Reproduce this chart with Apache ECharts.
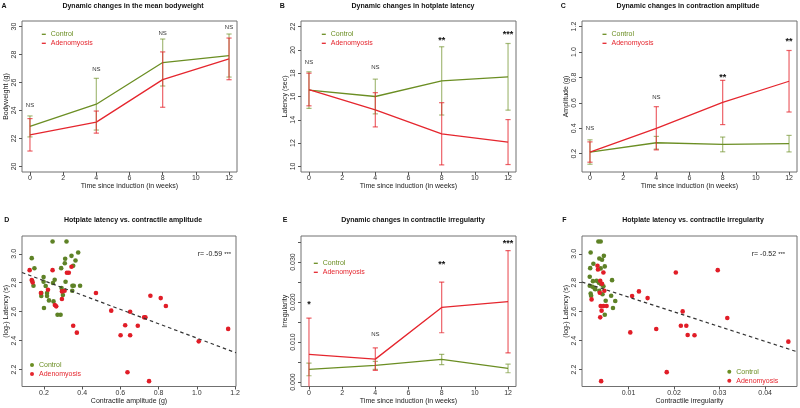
<!DOCTYPE html>
<html><head><meta charset="utf-8">
<script src="https://cdn.jsdelivr.net/npm/echarts@6/dist/echarts.min.js"></script>
<style>html,body{margin:0;padding:0;background:#fff}#c{width:800px;height:408px}</style>
</head><body><div id="c"></div>
<script>
// ---------- data ----------
const weeks = [0, 4, 8, 12];
const weekTicks = [0, 2, 4, 6, 8, 10, 12];

// A: bodyweight
const bwCtrlMean = [22.86, 24.45, 27.43, 27.93];
const bwCtrlSd = [0.75, 1.85, 1.68, 1.54];
const bwAdenoMean = [22.26, 23.17, 26.21, 27.69];
const bwAdenoSd = [1.16, 0.79, 1.98, 1.49];
const bwSig = ['NS', 'NS', 'NS', 'NS'];
const bwSigY = [24.36, 26.93, 29.55, 29.95];
const bwTicks = [20, 22, 24, 26, 28, 30];

// B: hotplate latency
const latCtrlMean = [16.55, 16.0, 17.34, 17.69];
const latCtrlSd = [1.57, 1.49, 2.93, 2.86];
const latAdenoMean = [16.6, 14.86, 12.8, 12.09];
const latAdenoSd = [1.4, 1.47, 2.67, 1.93];
const latSig = ['NS', 'NS', '**', '***'];
const latSigY = [18.94, 18.46, 20.94, 21.43];
const latTicks = [10, 12, 14, 16, 18, 20, 22];

// C: contraction amplitude
const ampCtrlMean = [0.213, 0.286, 0.273, 0.279];
const ampCtrlSd = [0.096, 0.05, 0.058, 0.065];
const ampAdenoMean = [0.213, 0.40, 0.603, 0.77];
const ampAdenoSd = [0.08, 0.17, 0.174, 0.242];
const ampSig = ['NS', 'NS', '**', '**'];
const ampSigY = [0.396, 0.642, 0.815, 1.095];
const ampTicks = [0.2, 0.4, 0.6, 0.8, 1.0, 1.2];

// E: contractile irregularity
const irrCtrlMean = [0.00316, 0.00416, 0.00566, 0.00341];
const irrCtrlSd = [0.00158, 0.001, 0.00129, 0.00108];
const irrAdenoMean = [0.00691, 0.00574, 0.01866, 0.02008];
const irrAdenoSd = [0.00909, 0.0028, 0.00633, 0.01279];
const irrSig = ['*', 'NS', '**', '***'];
const irrSigY = [0.01983, 0.01183, 0.02983, 0.03491];
const irrTicks = [0, 0.005, 0.01, 0.015, 0.02, 0.025, 0.03, 0.035];
const irrTickLabels = [0, 0.01, 0.02, 0.03];

// D: latency vs amplitude  [amplitude, log latency]
const dCtrl = [[0.136,2.97],[0.15,2.90],[0.245,3.085],[0.318,3.085],[0.311,2.966],[0.344,2.986],[0.379,3.009],
  [0.365,2.954],[0.309,2.935],[0.353,2.917],[0.29,2.901],[0.198,2.839],[0.256,2.821],[0.138,2.814],[0.145,2.779],
  [0.198,2.807],[0.209,2.777],[0.313,2.807],[0.247,2.798],[0.349,2.779],[0.356,2.779],[0.389,2.779],[0.292,2.763],
  [0.348,2.745],[0.186,2.729],[0.186,2.708],[0.216,2.729],[0.216,2.708],[0.299,2.715],[0.226,2.678],[0.25,2.671],
  [0.2,2.625],[0.271,2.579],[0.287,2.579]];
const dAdeno = [[0.125,2.887],[0.245,2.887],[0.344,2.91],[0.32,2.869],[0.33,2.869],[0.136,2.819],[0.141,2.802],
  [0.221,2.752],[0.184,2.729],[0.294,2.74],[0.308,2.745],[0.472,2.729],[0.294,2.688],[0.257,2.646],[0.264,2.637],
  [0.353,2.503],[0.372,2.455],[0.552,2.607],[0.651,2.60],[0.625,2.506],[0.691,2.503],[0.601,2.437],[0.651,2.437],
  [0.637,2.181],[0.757,2.71],[0.811,2.694],[0.838,2.639],[0.731,2.561],[0.724,2.561],[0.75,2.12],[1.01,2.395],[1.164,2.481]];
const fitD = [2.913, -0.4955];
const rLabelD = 'r= -0.59';
const dXTicks = [0.2, 0.4, 0.6, 0.8, 1.0, 1.2];
const logLatTicks = [2.2, 2.4, 2.6, 2.8, 3.0];

// F: latency vs irregularity [irregularity, log latency]
const fCtrl = [[0.0034,3.085],[0.0039,3.085],[0.0017,3.009],[0.0046,2.986],[0.0036,2.968],[0.0042,2.959],[0.0016,2.901],
  [0.0048,2.913],[0.0023,2.931],[0.0039,2.899],[0.0015,2.841],[0.0022,2.811],[0.0030,2.814],[0.0064,2.818],[0.0015,2.779],
  [0.0021,2.772],[0.0026,2.761],[0.0017,2.726],[0.0018,2.71],[0.0036,2.745],[0.0062,2.71],[0.0071,2.674],[0.0050,2.676],
  [0.0066,2.625],[0.0048,2.579],[0.0040,2.79],[0.0035,2.80],[0.0043,2.72],[0.0027,2.755],[0.0045,2.775]];
const fAdeno = [[0.0032,2.917],[0.0033,2.892],[0.0045,2.871],[0.0038,2.814],[0.0042,2.793],[0.0019,2.685],[0.0047,2.745],
  [0.0037,2.731],[0.0039,2.639],[0.0045,2.639],[0.0052,2.639],[0.0041,2.607],[0.0038,2.561],[0.0040,2.12],[0.0104,2.457],
  [0.0108,2.708],[0.0123,2.74],[0.0142,2.694],[0.0161,2.48],[0.0184,2.182],[0.0204,2.871],[0.0296,2.887],[0.0219,2.602],
  [0.0215,2.503],[0.0227,2.503],[0.0230,2.439],[0.0245,2.437],[0.0317,2.556],[0.0451,2.393]];
const fitF = [2.803, -10.21];
const rLabelF = 'r= -0.52';
const fXTicks = [0.01, 0.02, 0.03, 0.04];

// ---------- styling ----------
const FONT = 'Liberation Sans, Arial, Helvetica, sans-serif';
const GREEN = '#6b8e23';
const RED = '#e5262e';
const GREEN_A = 'rgba(107,142,35,0.6)';
const RED_A = 'rgba(229,38,46,0.72)';

const grids = [
  {left: 22, top: 21, width: 215, height: 151},
  {left: 301, top: 21, width: 215, height: 151},
  {left: 582, top: 21, width: 215, height: 151},
  {left: 22, top: 236, width: 214, height: 150.5},
  {left: 301, top: 236, width: 215, height: 150.5},
  {left: 582, top: 236, width: 215, height: 150.5}
].map(g => Object.assign(g, {show: true, borderColor: '#707070', borderWidth: 1, backgroundColor: 'transparent', containLabel: false}));

function axis(dim, gi, min, max, ticks, labels, fmt, name) {
  const isY = dim === 'y';
  return {
    type: 'value', gridIndex: gi, min: min, max: max,
    axisLine: {show: false, onZero: false},
    splitLine: {show: false},
    axisTick: {show: true, length: 3, lineStyle: {color: '#555', width: 1}, customValues: ticks},
    axisLabel: {customValues: labels, formatter: fmt, fontSize: 7, color: '#333', fontFamily: FONT,
      margin: isY ? 4.5 : 3, rotate: isY ? 90 : 0},
    name: name, nameLocation: 'middle', nameGap: isY ? 12 : 10,
    nameTextStyle: {fontSize: 7, color: '#222', fontFamily: FONT}
  };
}
const f0 = v => String(v), f1 = v => v.toFixed(1), f2 = v => v.toFixed(2), f3 = v => v.toFixed(3);

const xAxes = [
  axis('x', 0, -0.48, 12.48, weekTicks, weekTicks, f0, 'Time since induction (in weeks)'),
  axis('x', 1, -0.48, 12.48, weekTicks, weekTicks, f0, 'Time since induction (in weeks)'),
  axis('x', 2, -0.48, 12.48, weekTicks, weekTicks, f0, 'Time since induction (in weeks)'),
  axis('x', 3, 0.085, 1.205, dXTicks, dXTicks, f1, 'Contractile amplitude (g)'),
  axis('x', 4, -0.48, 12.48, weekTicks, weekTicks, f0, 'Time since induction (in weeks)'),
  axis('x', 5, -0.0002, 0.047, fXTicks, fXTicks, f2, 'Contractile irregularity')
];
const yAxes = [
  axis('y', 0, 19.6, 30.4, bwTicks, bwTicks, f0, 'Bodyweight (g)'),
  axis('y', 1, 9.52, 22.48, latTicks, latTicks, f0, 'Latency (sec)'),
  axis('y', 2, 0.056, 1.244, ampTicks, ampTicks, f1, 'Amplitude (g)'),
  axis('y', 3, 2.083, 3.123, logLatTicks, logLatTicks, f1, '(log-) Latency (s)'),
  axis('y', 4, -0.0011, 0.0365, irrTicks, irrTickLabels, f3, 'Irregularity'),
  axis('y', 5, 2.083, 3.123, logLatTicks, logLatTicks, f1, '(log-) Latency (s)')
];

function errRender(params, api) {
  const x = api.value(0), lo = api.value(1), hi = api.value(2);
  const p1 = api.coord([x, hi]), p2 = api.coord([x, lo]);
  const cap = 2.6;
  const st = {stroke: api.visual('color'), lineWidth: 1.2};
  return {type: 'group', children: [
    {type: 'line', shape: {x1: p1[0], y1: p1[1], x2: p2[0], y2: p2[1]}, style: st},
    {type: 'line', shape: {x1: p1[0] - cap, y1: p1[1], x2: p1[0] + cap, y2: p1[1]}, style: st},
    {type: 'line', shape: {x1: p2[0] - cap, y1: p2[1], x2: p2[0] + cap, y2: p2[1]}, style: st}
  ]};
}
function sigRender(arr) {
  return function (params, api) {
    const p = api.coord([api.value(0), api.value(1)]);
    const t = arr[params.dataIndex];
    const star = t.indexOf('*') >= 0;
    return {type: 'text', x: p[0], y: p[1] + (star ? 1.5 : 0),
      style: {text: t, fill: star ? '#111' : '#333', font: (star ? 'bold 9px ' : '6px ') + FONT,
        align: 'center', verticalAlign: 'middle', textAlign: 'center', textVerticalAlign: 'middle'}};
  };
}

const series = [];
function linePanel(gi, cm, cs, am, as, sig, sigY) {
  const common = {xAxisIndex: gi, yAxisIndex: gi, silent: true, animation: false};
  series.push(Object.assign({type: 'line', name: 'Control', symbol: 'none', z: 2,
    data: weeks.map((w, i) => [w, cm[i]]), lineStyle: {color: GREEN, width: 1.3}, itemStyle: {color: GREEN}}, common));
  series.push(Object.assign({type: 'line', name: 'Adenomyosis', symbol: 'none', z: 2,
    data: weeks.map((w, i) => [w, am[i]]), lineStyle: {color: RED, width: 1.3}, itemStyle: {color: RED}}, common));
  series.push(Object.assign({type: 'custom', name: 'Control', renderItem: errRender, clip: true, z: 3,
    encode: {x: 0, y: [1, 2]}, itemStyle: {color: GREEN_A},
    data: weeks.map((w, i) => [w, cm[i] - cs[i], cm[i] + cs[i]])}, common));
  series.push(Object.assign({type: 'custom', name: 'Adenomyosis', renderItem: errRender, clip: true, z: 4,
    encode: {x: 0, y: [1, 2]}, itemStyle: {color: RED_A},
    data: weeks.map((w, i) => [w, am[i] - as[i], am[i] + as[i]])}, common));
  series.push(Object.assign({type: 'custom', name: 'sig', renderItem: sigRender(sig), z: 5,
    encode: {x: 0, y: 1}, data: weeks.map((w, i) => [w, sigY[i]])}, common));
}
function scatterPanel(gi, ctrl, ad, fit, xmin, xmax) {
  const common = {xAxisIndex: gi, yAxisIndex: gi, silent: true, animation: false};
  series.push(Object.assign({type: 'scatter', name: 'Control', symbol: 'circle', symbolSize: 4.6, z: 3,
    itemStyle: {color: '#5e8226', opacity: 1}, data: ctrl}, common));
  series.push(Object.assign({type: 'scatter', name: 'Adenomyosis', symbol: 'circle', symbolSize: 4.6, z: 3,
    itemStyle: {color: '#e11d27', opacity: 1}, data: ad}, common));
  series.push(Object.assign({type: 'line', name: 'fit', symbol: 'none', z: 4,
    data: [[xmin, fit[0] + fit[1] * xmin], [xmax, fit[0] + fit[1] * xmax]],
    lineStyle: {color: '#333', width: 1.2, type: [3.5, 3]}}, common));
}
linePanel(0, bwCtrlMean, bwCtrlSd, bwAdenoMean, bwAdenoSd, bwSig, bwSigY);
linePanel(1, latCtrlMean, latCtrlSd, latAdenoMean, latAdenoSd, latSig, latSigY);
linePanel(2, ampCtrlMean, ampCtrlSd, ampAdenoMean, ampAdenoSd, ampSig, ampSigY);
scatterPanel(3, dCtrl, dAdeno, fitD, 0.085, 1.205);
linePanel(4, irrCtrlMean, irrCtrlSd, irrAdenoMean, irrAdenoSd, irrSig, irrSigY);
scatterPanel(5, fCtrl, fAdeno, fitF, -0.0002, 0.047);

function legend(left, top, dot) {
  return {left: left, top: top, orient: 'vertical', padding: 0, itemGap: 1, selectedMode: false,
    itemWidth: 4, itemHeight: dot ? 4 : 1.3,
    textStyle: {fontSize: 7, fontFamily: FONT, lineHeight: 8},
    data: [
      {name: 'Control', icon: dot ? 'circle' : 'rect', textStyle: {color: GREEN}},
      {name: 'Adenomyosis', icon: dot ? 'circle' : 'rect', textStyle: {color: RED}}
    ]};
}

const titleDefs = [
  [133, 5.7, 'Dynamic changes in the mean bodyweight'],
  [413, 5.7, 'Dynamic changes in hotplate latency'],
  [688, 5.7, 'Dynamic changes in contraction amplitude'],
  [133, 220.3, 'Hotplate latency vs. contractile amplitude'],
  [413, 220.5, 'Dynamic changes in contractile irregularity'],
  [693, 220.3, 'Hotplate latency vs. contractile irregularity']
];
const titles = titleDefs.map(d => ({text: d[2], left: d[0], top: d[1] - 4.5, textAlign: 'center', padding: 0,
  textStyle: {fontSize: 7, fontWeight: 'bold', color: '#111', fontFamily: FONT, lineHeight: 9}}));

const letterDefs = [['A', 4, 5.7], ['B', 282.3, 5.7], ['C', 563.3, 5.7], ['D', 6.7, 219.8], ['E', 285, 220], ['F', 564.3, 220]];
const graphic = letterDefs.map(d => ({type: 'text', x: d[1], y: d[2], silent: true,
  style: {text: d[0], font: 'bold 7px ' + FONT, fill: '#111', align: 'center', verticalAlign: 'middle'}}));
[[rLabelD, 197.7, 254], [rLabelF, 751.7, 254]].forEach(d => {
  graphic.push({type: 'text', x: d[1], y: d[2], silent: true,
    style: {text: d[0], font: '7px ' + FONT, fill: '#222', align: 'left', verticalAlign: 'middle'}});
  graphic.push({type: 'text', x: d[1] + 26.5, y: d[2], silent: true,
    style: {text: '***', font: '6px ' + FONT, fill: '#222', align: 'left', verticalAlign: 'middle'}});
});

const chart = echarts.init(document.getElementById('c'), null, {renderer: 'canvas'});
chart.setOption({
  animation: false,
  backgroundColor: '#fff',
  title: titles,
  grid: grids,
  xAxis: xAxes,
  yAxis: yAxes,
  legend: [legend(41.8, 30.3, false), legend(321.8, 30.3, false), legend(602.5, 30.3, false),
           legend(30, 361, true), legend(313.8, 259.3, false), legend(727.3, 367.7, true)],
  graphic: graphic,
  series: series
});
</script></body></html>
